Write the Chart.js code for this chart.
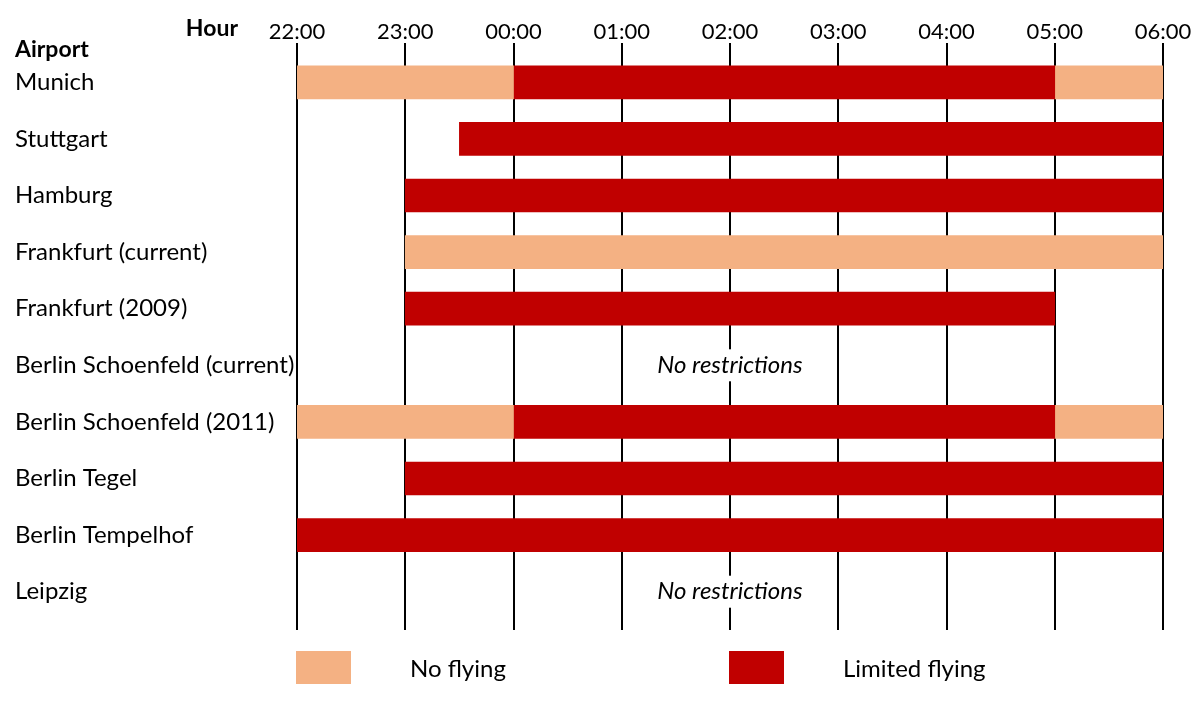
<!DOCTYPE html>
<html>
<head>
<meta charset="utf-8">
<script src="https://cdn.jsdelivr.net/npm/chart.js@4/dist/chart.umd.min.js"></script>
<style>
  html, body { margin: 0; padding: 0; background: #fff; }
  #wrap { width: 1197px; height: 704px; }
</style>
</head>
<body>
<div id="wrap"><canvas id="c" width="1197" height="704"></canvas></div>
<script>
// Night-flight restrictions at German airports, hours counted from 22:00
const airports = [
  'Munich', 'Stuttgart', 'Hamburg', 'Frankfurt (current)', 'Frankfurt (2009)',
  'Berlin Schoenfeld (current)', 'Berlin Schoenfeld (2011)', 'Berlin Tegel',
  'Berlin Tempelhof', 'Leipzig'
];
const hourLabels = ['22:00', '23:00', '00:00', '01:00', '02:00', '03:00', '04:00', '05:00', '06:00'];

// [start, end] in hours after 22:00
const noFlyingEvening = [[0, 2], null, null, [1, 8], null, null, [0, 2], null, null, null];
const limitedFlying   = [[2, 7], [1.5, 8], [1, 8], null, [1, 7], null, [2, 7], [1, 8], [0, 8], null];
const noFlyingMorning = [[7, 8], null, null, null, null, null, [7, 8], null, null, null];
const unrestricted    = ['Berlin Schoenfeld (current)', 'Leipzig'];

const ORANGE = '#F4B183';
const RED = '#C00000';
const FONT = 'Lato, "Open Sans", sans-serif';

const hourLines = {
  id: 'hourLines',
  beforeDatasetsDraw(chart) {
    const { ctx, chartArea, scales: { x } } = chart;
    ctx.save();
    ctx.strokeStyle = '#000';
    ctx.lineWidth = 2;
    for (let h = 0; h <= 8; h++) {
      const px = Math.round(x.getPixelForValue(h));
      ctx.beginPath();
      ctx.moveTo(px, chartArea.top - 11);
      ctx.lineTo(px, chartArea.bottom + 10);
      ctx.stroke();
    }
    ctx.restore();
  }
};

const annotations = {
  id: 'annotations',
  afterDraw(chart) {
    const { ctx, scales: { x, y } } = chart;
    ctx.save();
    // axis headings
    ctx.fillStyle = '#000';
    ctx.font = 'bold 23px ' + FONT;
    ctx.textBaseline = 'middle';
    ctx.textAlign = 'right';
    ctx.fillText('Hour', 238, 29);
    ctx.textAlign = 'left';
    ctx.fillText('Airport', 15, 50);

    // rows without any restriction
    ctx.font = 'italic 24px ' + FONT;
    ctx.textAlign = 'center';
    unrestricted.forEach(name => {
      const cy = y.getPixelForValue(airports.indexOf(name));
      const cx = x.getPixelForValue(4);
      const w = ctx.measureText('No restrictions').width;
      ctx.fillStyle = '#fff';
      ctx.fillRect(cx - w / 2 - 2, cy - 16, w + 4, 32);
      ctx.fillStyle = '#000';
      ctx.fillText('No restrictions', cx, cy);
    });

    // legend
    const seen = new Set();
    const items = [];
    chart.data.datasets.forEach(ds => {
      if (!seen.has(ds.label)) { seen.add(ds.label); items.push(ds); }
    });
    ctx.font = '24px ' + FONT;
    ctx.textAlign = 'left';
    items.forEach((ds, i) => {
      const left = Math.round(x.getPixelForValue(i * 4)) - 1;
      ctx.fillStyle = ds.backgroundColor;
      ctx.fillRect(left, 651, 55, 33);
      ctx.fillStyle = '#000';
      ctx.fillText(ds.label, left + 114, 669);
    });
    ctx.restore();
  }
};

new Chart(document.getElementById('c'), {
  type: 'bar',
  data: {
    labels: airports,
    datasets: [
      { label: 'No flying', data: noFlyingEvening, backgroundColor: ORANGE },
      { label: 'Limited flying', data: limitedFlying, backgroundColor: RED },
      { label: 'No flying', data: noFlyingMorning, backgroundColor: ORANGE }
    ]
  },
  options: {
    indexAxis: 'y',
    responsive: false,
    animation: false,
    grouped: false,
    barThickness: 33,
    borderSkipped: false,
    layout: { padding: { top: 0, bottom: 84, left: 15, right: 34 } },
    plugins: { legend: { display: false }, tooltip: { enabled: false } },
    scales: {
      x: {
        position: 'top',
        type: 'linear',
        min: 0,
        max: 8,
        afterFit(scale) {
          scale.height = 54;
          scale.paddingLeft = 0;
          scale.paddingRight = 0;
        },
        afterBuildTicks(scale) { scale.ticks = hourLabels.map((_, i) => ({ value: i })); },
        ticks: {
          callback: (v) => hourLabels[v],
          color: '#000',
          font: { family: FONT, size: 22 },
          padding: 9,
          maxRotation: 0,
          autoSkip: false
        },
        grid: { display: false, drawTicks: false },
        border: { display: false }
      },
      y: {
        type: 'category',
        offset: true,
        afterFit(scale) { scale.width = 282; },
        ticks: {
          crossAlign: 'far',
          color: '#000',
          font: { family: FONT, size: 24 },
          padding: 0
        },
        grid: { display: false, drawTicks: false },
        border: { display: false }
      }
    }
  },
  plugins: [hourLines, annotations]
});
</script>
</body>
</html>
